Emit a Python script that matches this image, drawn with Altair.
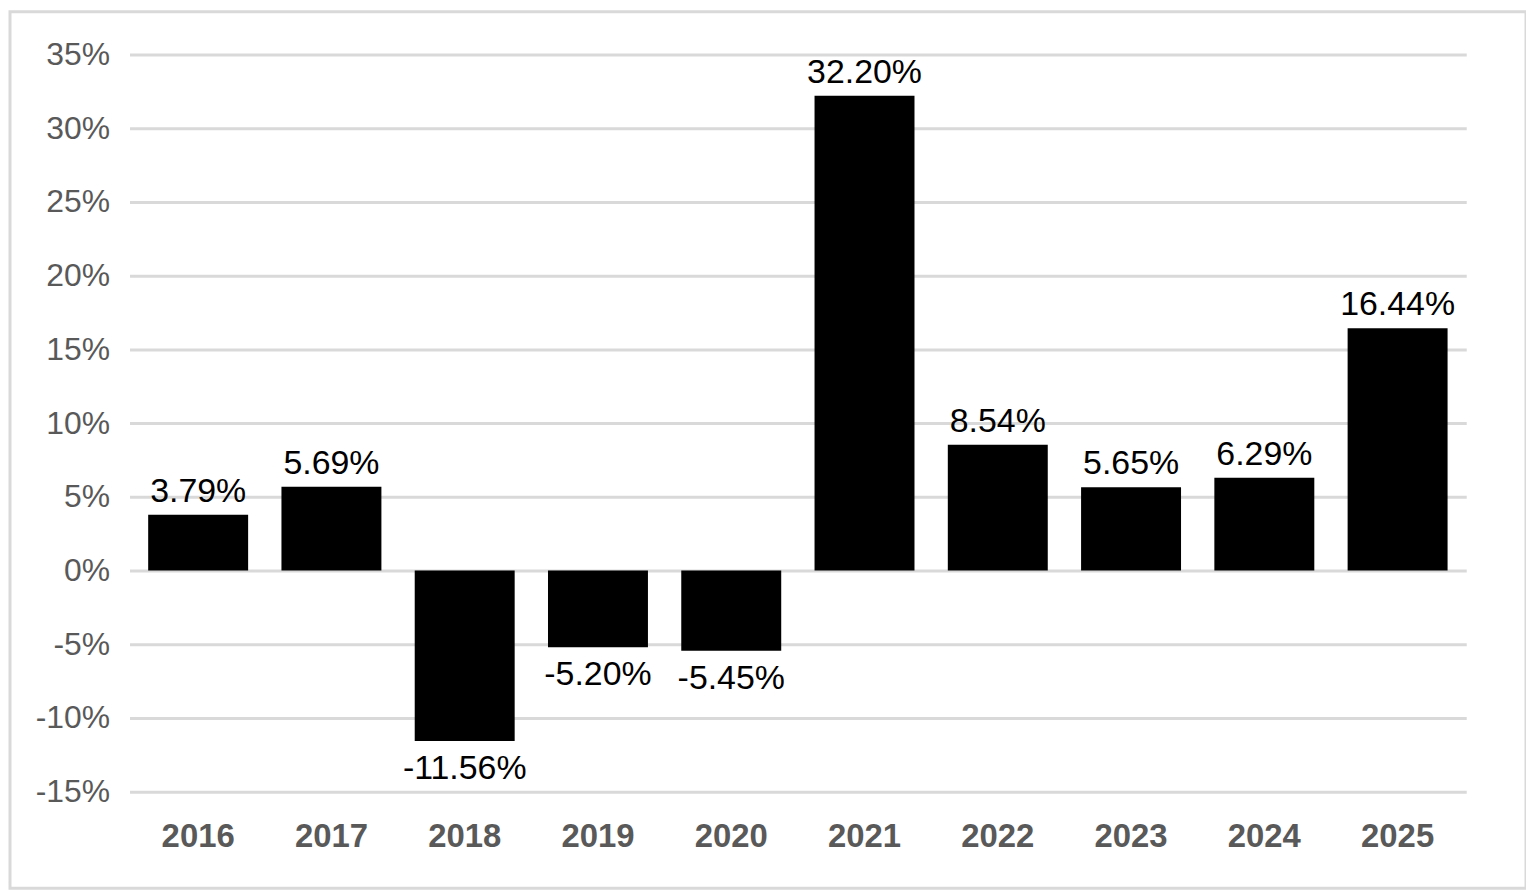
import altair as alt
import pandas as pd

years = ["2016", "2017", "2018", "2019", "2020", "2021", "2022", "2023", "2024", "2025"]
returns = [3.79, 5.69, -11.56, -5.20, -5.45, 32.20, 8.54, 5.65, 6.29, 16.44]
labels = ["3.79%", "5.69%", "-11.56%", "-5.20%", "-5.45%", "32.20%", "8.54%", "5.65%", "6.29%", "16.44%"]
y_ticks = [-15, -10, -5, 0, 5, 10, 15, 20, 25, 30, 35]

df = pd.DataFrame({"year": years, "ret": returns, "label": labels})
df["pos"] = df["ret"] >= 0

W, H = 1342, 740
FONT = "Liberation Sans"

x_enc = alt.X("year:N", sort=years, title=None,
              scale=alt.Scale(paddingInner=0.25, paddingOuter=0.14),
              axis=alt.Axis(labelAngle=0, ticks=False, domain=False, grid=False,
                            labelFont=FONT, labelFontSize=33, labelFontWeight="bold",
                            labelColor="#595959", labelPadding=29))
y_enc = alt.Y("ret:Q", title=None,
              scale=alt.Scale(domain=[-15, 35], nice=False, zero=False),
              axis=alt.Axis(values=y_ticks, labelExpr="datum.value + '%'",
                            ticks=False, domain=False, grid=True,
                            gridColor="#d9d9d9", gridWidth=3,
                            labelFont=FONT, labelFontSize=32, labelColor="#595959",
                            labelPadding=20))

base = alt.Chart(df)

bars = base.mark_bar(color="#000000").encode(x=x_enc, y=y_enc, y2=alt.datum(0))

pos_text = base.transform_filter("datum.pos").mark_text(
    font=FONT, fontSize=34, color="#000000", baseline="bottom", dy=-6
).encode(x=alt.X("year:N", sort=years), y="ret:Q", text="label:N")

neg_text = base.transform_filter("!datum.pos").mark_text(
    font=FONT, fontSize=34, color="#000000", baseline="top", dy=11
).encode(x=alt.X("year:N", sort=years), y="ret:Q", text="label:N")

border = alt.Chart(pd.DataFrame({"k": [0]})).mark_rect(
    fill=None, stroke="#d9d9d9", strokeWidth=3, clip=False
).encode(x=alt.value(-120), x2=alt.value(W + 60), y=alt.value(-43), y2=alt.value(H + 97))

chart = alt.layer(bars, pos_text, neg_text, border).properties(
    width=W, height=H,
    background="#ffffff",
    padding={"left": 122, "top": 45, "right": 60, "bottom": 100},
    autosize=alt.AutoSizeParams(type="none"),
).configure_view(stroke="transparent", strokeWidth=0).configure_axis(
    domain=False, ticks=False
)

chart.save("out.html", embed_options={"renderer": "svg", "actions": False})
